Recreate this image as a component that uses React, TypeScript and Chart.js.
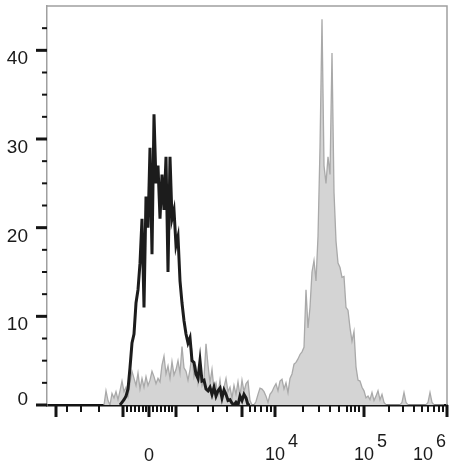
import React, { useEffect, useRef } from 'react';
import { Chart, registerables } from 'chart.js';

Chart.register(...registerables);

// Histogram bins on the display (channel) scale, 0..400 channels across the axis
const BIN_WIDTH = 2;
const X_MIN_CHANNEL = 0;
const X_MAX_CHANNEL = 400;
const Y_MAX = 45;

// Unstained / isotype control (black outline)
const controlStartChannel = 73;
const controlCounts = [
  0, 0.3, 0.6, 1.0, 1.8, 4.2, 7.0, 8.0, 11.5, 13.0,
  16, 21, 11, 23.5, 20, 29, 17, 32.8, 25, 27,
  21, 26, 22, 28, 15, 28, 21, 22, 18, 19,
  14, 11.5, 9.5, 8, 7, 7.6, 5, 4.8, 3.5, 3.0,
  5.0, 2.7, 2.8, 1.8, 1.6, 2.0, 1.2, 2.0, 1.0, 1.6,
  1.9, 0.8, 1.7, 1.2, 0.5, 0.6, 0.2, 0, 0.3, 0,
  1.0, 0.5, 1.2, 0.8, 0, 0,
];

// Stained sample (grey filled)
const stainedStartChannel = 57;
const stainedCounts = [
  0, 1.6, 0.5, 0, 1.3, 0.8, 1.5, 0.6, 1.6, 2.7,
  1.5, 2.0, 1.0, 2.5, 3.8, 3.0, 2.2, 3.6, 1.8, 3.0,
  2.0, 3.2, 2.2, 2.8, 3.8, 3.2, 2.4, 3.0, 2.6, 4.5,
  5.5, 3.5, 4.4, 3.0, 4.9, 3.4, 4.0, 5.0, 3.6, 6.6,
  4.2, 3.8, 2.8, 4.0, 5.8, 3.2, 4.2, 2.4, 3.5, 2.2,
  3.0, 6.9, 4.5, 2.5, 4.0, 1.8, 2.5, 1.2, 2.8, 1.0,
  2.0, 3.0, 1.5, 2.0, 0.8, 2.2, 1.2, 2.6, 1.0, 2.8,
  1.5, 2.4, 2.7, 0.5, 0, 0, 0.4, 1.2, 1.9, 1.8,
  1.5, 1.0, 0.3, 1.2, 1.5, 2.0, 2.4, 1.6, 2.7, 2.9,
  1.8, 2.5, 1.4, 3.0, 3.5, 4.6, 4.8, 5.2, 5.7, 6.0,
  6.5, 13.0, 8.7, 11.0, 15.0, 16.3, 14.0, 19.0, 29.0, 43.5,
  27.0, 25.0, 28.0, 26.0, 39.7, 24.0, 18.5, 16.0, 15.5, 14.4,
  14.5, 11.0, 10.7, 8.7, 7.2, 8.3, 4.3, 2.8, 2.7, 2.0,
  1.6, 0.8, 1.0, 0.6, 1.4, 0.5, 1.0, 1.6, 0.6, 1.2,
  0.3, 0, 0, 0, 0, 0, 0, 0, 0, 0.3,
  1.4, 0.3, 0, 0, 0, 0, 0, 0, 0, 0,
  0, 0, 0.3, 1.4, 0.3, 0, 0, 0, 0, 0,
  0,
];

// Axis ticks
const yMajorTicks = [0, 10, 20, 30, 40];
const yMinorTicks = [2.5, 5, 7.5, 12.5, 15, 17.5, 22.5, 25, 27.5, 32.5, 35, 37.5, 42.5];
const xMajorTickChannels = [9, 76, 102, 129, 195, 228, 317, 400];
const xMinorTickChannels = [
  20, 34, 52, 80, 84, 88, 92, 96, 99, 106, 110, 114, 118, 122, 125,
  151, 166, 180, 203, 208, 214, 220, 224,
  256, 272, 283, 292, 300, 304, 308, 312,
  342, 356, 367, 375, 381, 387, 392, 396,
];
const xLabelChannels = [102, 228, 317, 376];
const xLabelBases = ['0', '10', '10', '10'];
const xLabelExponents = ['', '4', '5', '6'];

function toPoints(start: number, counts: number[]) {
  return counts.map((c, i) => ({ x: start + i * BIN_WIDTH, y: c }));
}

const FONT = '"Liberation Sans", Arial, Helvetica, sans-serif';

const axisDecor = {
  id: 'axisDecor',
  afterDraw(chart: any) {
    const { ctx, chartArea: a, scales } = chart;
    const xs = scales.x;
    const ys = scales.y;
    ctx.save();
    // frame (top, right)
    ctx.strokeStyle = '#a0a0a0';
    ctx.lineWidth = 1.5;
    ctx.beginPath();
    ctx.moveTo(a.left, a.top);
    ctx.lineTo(a.right, a.top);
    ctx.lineTo(a.right, a.bottom);
    ctx.stroke();

    const seg = (x1: number, y1: number, x2: number, y2: number) => {
      ctx.beginPath();
      ctx.moveTo(x1, y1);
      ctx.lineTo(x2, y2);
      ctx.stroke();
    };
    ctx.strokeStyle = '#141414';
    // y ticks
    ctx.lineWidth = 3;
    for (const v of yMajorTicks) {
      const py = ys.getPixelForValue(v);
      seg(a.left - 11, py, a.left, py);
    }
    ctx.lineWidth = 2;
    for (const v of yMinorTicks) {
      const py = ys.getPixelForValue(v);
      seg(a.left - 5, py, a.left, py);
    }
    // x ticks
    ctx.lineWidth = 3;
    for (const c of xMajorTickChannels) {
      const px = xs.getPixelForValue(c);
      seg(px, a.bottom, px, a.bottom + 12);
    }
    ctx.lineWidth = 2;
    for (const c of xMinorTickChannels) {
      const px = xs.getPixelForValue(c);
      seg(px, a.bottom, px, a.bottom + 7);
    }

    // y labels
    ctx.fillStyle = '#1a1a1a';
    ctx.font = `19px ${FONT}`;
    ctx.textAlign = 'right';
    ctx.textBaseline = 'alphabetic';
    for (const v of yMajorTicks) {
      const py = ys.getPixelForValue(v);
      ctx.fillText(String(v), 28, v === 0 ? py : py + 14);
    }

    // x labels
    ctx.font = `18px ${FONT}`;
    ctx.textAlign = 'left';
    xLabelChannels.forEach((c, i) => {
      const cx = xs.getPixelForValue(c);
      const base = xLabelBases[i];
      const w = ctx.measureText(base).width;
      const exp = xLabelExponents[i];
      ctx.fillText(base, cx - w / 2, exp ? a.bottom + 55 : a.bottom + 56);
      if (exp) ctx.fillText(exp, cx + w / 2 + 3, a.bottom + 42);
    });
    ctx.restore();
  },
};

export default function App() {
  const ref = useRef<HTMLCanvasElement | null>(null);

  useEffect(() => {
    if (!ref.current) return;
    const chart = new Chart(ref.current, {
      type: 'line',
      data: {
        datasets: [
          {
            label: 'Control',
            data: toPoints(controlStartChannel, controlCounts),
            borderColor: '#1c1c1c',
            borderWidth: 3,
            fill: false,
            pointRadius: 0,
            tension: 0,
            order: 0,
          },
          {
            label: 'Stained',
            data: toPoints(stainedStartChannel, stainedCounts),
            borderColor: '#a9a9a9',
            backgroundColor: '#d4d4d4',
            borderWidth: 1.3,
            fill: 'origin',
            pointRadius: 0,
            tension: 0,
            order: 1,
          },
        ],
      },
      options: {
        responsive: false,
        animation: false,
        layout: { padding: { top: 6, right: 12, left: 0, bottom: 0 } },
        plugins: {
          legend: { display: false },
          tooltip: { enabled: false },
        },
        scales: {
          x: {
            type: 'linear',
            min: X_MIN_CHANNEL,
            max: X_MAX_CHANNEL,
            grid: { display: false },
            ticks: { display: false },
            border: { display: true, color: '#141414', width: 2.5 },
            afterFit: (s: any) => {
              s.height = 63;
            },
          },
          y: {
            type: 'linear',
            min: 0,
            max: Y_MAX,
            grid: { display: false },
            ticks: { display: false },
            border: { display: true, color: '#a0a0a0', width: 1.5 },
            afterFit: (s: any) => {
              s.width = 47;
            },
          },
        },
      },
      plugins: [axisDecor],
    });
    return () => chart.destroy();
  }, []);

  return (
    <div style={{ position: 'fixed', left: 0, top: 0, width: 459, height: 468, background: '#fff' }}>
      <canvas ref={ref} width={459} height={468} style={{ display: 'block' }} />
    </div>
  );
}
